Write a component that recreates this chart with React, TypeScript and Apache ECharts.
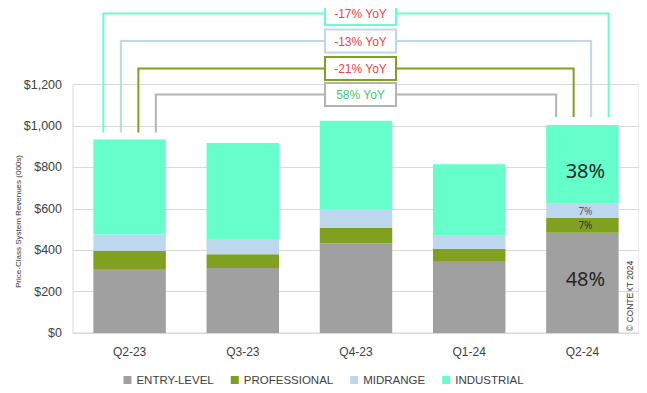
import React, { useEffect, useRef } from "react";
import * as echarts from "echarts";

const categories = ["Q2-23", "Q3-23", "Q4-23", "Q1-24", "Q2-24"];
const seriesNames = ["ENTRY-LEVEL", "PROFESSIONAL", "MIDRANGE", "INDUSTRIAL"];
const entryLevel = [306, 314, 433, 348, 484];
const professional = [91, 66, 76, 59, 72];
const midrange = [79, 74, 88, 63, 69];
const industrial = [459, 464, 428, 345, 380];
const yoyLabels = ["58% YoY", "-21% YoY", "-13% YoY", "-17% YoY"];
const yTicks = [0, 200, 400, 600, 800, 1000, 1200];

const colors = ["#A0A0A0", "#7FA11F", "#BDD7EE", "#66FFCC"];
const bracketColors = ["#B4B4B4", "#7FA11F", "#BDD7EE", "#66FFCC"];
const FONT = "'Liberation Sans', Arial, sans-serif";

export default function App() {
  const ref = useRef<HTMLDivElement>(null);
  useEffect(() => {
    if (!ref.current) return;
    const chart = echarts.init(ref.current, null, { renderer: "svg" });
    const values = [entryLevel, professional, midrange, industrial];
    const totals = categories.map((_, i) => values.reduce((s, arr) => s + arr[i], 0));
    const last = categories.length - 1;

    const pctLabel = (k: number) => {
      const styles = [
        { fontSize: 20, color: "#262626", offset: [3, -4] },
        { fontSize: 10, color: "#333333", offset: [3, 0] },
        { fontSize: 10, color: "#555a60", offset: [3, 0] },
        { fontSize: 20, color: "#1c2a25", offset: [3, 6] },
      ][k];
      return {
        show: true,
        position: "inside",
        fontFamily: "'Noto Sans', sans-serif",
        fontSize: styles.fontSize,
        color: styles.color,
        offset: styles.offset,
        formatter: (p: any) => Math.round((p.value / totals[p.dataIndex]) * 100) + "%",
      };
    };

    const barSeries = seriesNames.map((name, k) => ({
      name,
      type: "bar",
      stack: "total",
      barWidth: "64%",
      itemStyle: { color: colors[k] },
      data: values[k].map((v, i) => (i === last ? { value: v, label: pctLabel(k) } : v)),
    }));

    const levelY = [94.5, 68.5, 41, 13.5];
    const leftOffsets = [26.25, 8.75, -8.75, -26.25];

    const bracketSeries = {
      type: "custom",
      name: "brackets",
      coordinateSystem: "cartesian2d",
      clip: false,
      silent: true,
      z: 10,
      data: yoyLabels.map((t, k) => [k, t]),
      renderItem: (params: any, api: any) => {
        const k = params.dataIndex;
        const pL = api.coord([0, totals[0]]);
        const pR = api.coord([last, totals[last]]);
        const xL = pL[0] + leftOffsets[k];
        const xR = pR[0] - leftOffsets[k];
        const y = levelY[k];
        const c = bracketColors[k];
        const midX = (pL[0] + pR[0]) / 2 + 4.5;
        const text = yoyLabels[k];
        const positive = !text.startsWith("-");
        return {
          type: "group",
          children: [
            {
              type: "polyline",
              shape: { points: [[xL, pL[1] - 7], [xL, y], [xR, y], [xR, pR[1] - 8]] },
              style: { stroke: c, lineWidth: 2, fill: null },
            },
            {
              type: "rect",
              shape: { x: midX - 35.5, y: y - 11.5, width: 71, height: 23 },
              style: { fill: "#ffffff", stroke: c, lineWidth: 2 },
            },
            {
              type: "text",
              style: {
                x: midX,
                y: y + 0.5,
                text,
                align: "center",
                verticalAlign: "middle",
                fontFamily: FONT,
                fontSize: 12,
                fill: positive ? "#3CC878" : "#EE4444",
              },
            },
          ],
        };
      },
    };

    chart.setOption({
      animation: false,
      grid: {
        left: 73,
        right: 8,
        top: 84.6,
        bottom: 60,
        show: true,
        borderColor: "#D9D9D9",
        borderWidth: 1,
      },
      legend: {
        data: seriesNames,
        left: "center",
        top: 369,
        itemWidth: 8,
        itemHeight: 8,
        itemGap: 17,
        icon: "rect",
        textStyle: { fontFamily: FONT, fontSize: 11.5, color: "#404040" },
      },
      xAxis: {
        type: "category",
        data: categories,
        axisTick: { show: false },
        axisLine: { lineStyle: { color: "#D9D9D9" } },
        axisLabel: { fontFamily: FONT, fontSize: 12, color: "#404040", margin: 13 },
      },
      yAxis: {
        type: "value",
        min: yTicks[0],
        max: yTicks[yTicks.length - 1],
        interval: yTicks[1] - yTicks[0],
        splitLine: { lineStyle: { color: "#D9D9D9" } },
        axisLabel: {
          fontFamily: FONT,
          fontSize: 12.5,
          color: "#404040",
          margin: 11,
          formatter: (v: number) => "$" + v.toLocaleString("en-US"),
        },
      },
      graphic: [
        {
          type: "text",
          x: 18,
          y: 221.5,
          rotation: Math.PI / 2,
          style: {
            text: "Price-Class System Revenues (000s)",
            align: "center",
            verticalAlign: "middle",
            fontFamily: FONT,
            fontSize: 8,
            fill: "#333333",
          },
        },
        {
          type: "text",
          x: 630,
          y: 296,
          rotation: Math.PI / 2,
          style: {
            text: "© CONTEXT 2024",
            align: "center",
            verticalAlign: "middle",
            fontFamily: FONT,
            fontSize: 8.5,
            fill: "#333333",
          },
        },
      ],
      series: [...barSeries, bracketSeries],
    });
    return () => chart.dispose();
  }, []);
  return <div ref={ref} style={{ width: 647, height: 393, margin: -8 }} />;
}
